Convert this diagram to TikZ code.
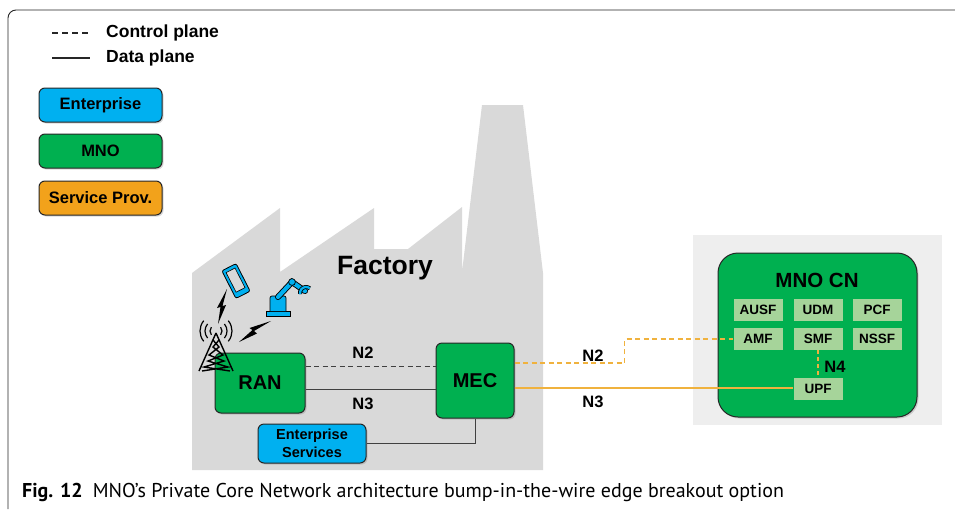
\documentclass[tikz,border=0pt]{standalone}
\usepackage{fontspec}
\setmainfont{Liberation Sans}
\newfontfamily\capfont{PT Sans}
\usetikzlibrary{positioning,shadows}

\definecolor{entblue}{HTML}{00B0F0}
\definecolor{mnogreen}{HTML}{00B050}
\definecolor{sporange}{HTML}{F2A21B}
\definecolor{nfgreen}{HTML}{A6D49A}
\definecolor{orline}{HTML}{F0B23E}
\definecolor{factgray}{HTML}{D9D9D9}
\definecolor{cnback}{HTML}{EEEEEE}

\tikzset{
    box/.style={draw=black!85, line width=1pt, rounded corners=6pt, inner sep=0pt,
        font=\bfseries, drop shadow={opacity=0.3, shadow xshift=1.5pt, shadow yshift=-1.5pt}},
    legbox/.style={box, minimum width=123pt, minimum height=34pt, font=\bfseries\fontsize{16.5}{18}\selectfont},
    nf/.style={fill=nfgreen, minimum width=49pt, minimum height=22pt, inner sep=0pt,
        font=\bfseries\fontsize{13.5}{15}\selectfont},
    lbl/.style={font=\bfseries\fontsize{16.5}{18}\selectfont, inner sep=0pt},
    ctrl/.style={dashed, dash pattern=on 5pt off 3.5pt, line width=1pt},
    data/.style={line width=1pt},
}

\begin{document}
\begin{tikzpicture}[x=1pt,y=-1pt]
    \useasboundingbox (0,0) rectangle (955,509);
    \draw[black!85, line width=0.9pt, rounded corners=8pt] (8,509) -- (8,10) -- (955,10);

    % legend
    \coordinate (cpa) at (52,33);
    \coordinate (cpb) at (90,33);
    \coordinate (dpa) at (52,58);
    \coordinate (dpb) at (90,58);
    \draw[ctrl, black!85, line width=1.4pt, dash pattern=on 6pt off 4pt] (cpa) -- (cpb);
    \draw[data, black!85, line width=1.4pt] (dpa) -- (dpb);
    \node[lbl, font=\bfseries\fontsize{17.5}{19}\selectfont, anchor=west] (cplbl) at (106,33) {Control plane};
    \node[lbl, font=\bfseries\fontsize{17.5}{19}\selectfont, anchor=west] (dplbl) at (106,58) {Data plane};
    \node[legbox, fill=entblue] (legent) at (100.5,105) {Enterprise};
    \node[legbox, fill=mnogreen] (legmno) at (100.5,151) {MNO};
    \node[legbox, fill=sporange] (legsp) at (100.5,198) {Service Prov.};

    % factory
    \fill[factgray] (192,470) -- (192,273) -- (280,208) -- (280,272) -- (374,208) -- (374,249)
        -- (408,249) -- (462,207) -- (462,272) -- (482,105) -- (523,105) -- (543,273) -- (543,470) -- cycle;
    \node[font=\bfseries\fontsize{26.5}{28}\selectfont] (factory) at (385,268) {Factory};

    % core network
    \fill[cnback] (693,235) rectangle (942,425);
    \node[box, fill=mnogreen, rounded corners=20pt, minimum width=199pt, minimum height=164pt] (CN) at (817.5,335) {};
    \node[font=\bfseries\fontsize{20.5}{22}\selectfont] (CNlbl) at (817,280) {MNO CN};
    \node[nf] (AUSF) at (758,310) {AUSF};
    \node[nf] (UDM) at (818,310) {UDM};
    \node[nf] (PCF) at (877,310) {PCF};
    \node[nf] (AMF) at (758,339) {AMF};
    \node[nf] (SMF) at (818,339) {SMF};
    \node[nf] (NSSF) at (877,339) {NSSF};
    \node[nf] (UPF) at (818,388.5) {UPF};

    % factory boxes
    \node[box, fill=mnogreen, minimum width=90pt, minimum height=60pt, font=\bfseries\fontsize{20}{22}\selectfont] (RAN) at (260,383) {RAN};
    \node[box, fill=mnogreen, minimum width=78pt, minimum height=75pt, font=\bfseries\fontsize{20}{22}\selectfont] (MEC) at (475,380.5) {MEC};
    \node[box, fill=entblue, minimum width=108pt, minimum height=39pt, align=center,
        font=\bfseries\fontsize{14.5}{18}\selectfont] (ES) at (312,443.5) {Enterprise\\Services};

    % links
    \coordinate (r2) at ([yshift=17pt]RAN.east);
    \coordinate (r3) at ([yshift=-6pt]RAN.east);
    \coordinate (m2) at ([yshift=17.5pt]MEC.east);
    \coordinate (m3) at ([yshift=-7.5pt]MEC.east);
    \draw[ctrl, black!75] (r2) -- (r2 -| MEC.west);
    \draw[data, black!75] (r3) -- (r3 -| MEC.west);
    \draw[data, black!75] (MEC.south) |- (ES.east);
    \draw[ctrl, orline, line width=1.5pt] (m2) -- ++(110,0) |- (AMF.west);
    \draw[data, orline, line width=1.5pt] (m3) -- (m3 -| UPF.west);
    \draw[ctrl, orline, line width=1.5pt, dash pattern=on 4pt off 3pt] (SMF.south) -- (UPF.north);
    \node[lbl] (n2a) at (363,353) {N2};
    \node[lbl] (n3a) at (363,404) {N3};
    \node[lbl] (n2b) at (593,356) {N2};
    \node[lbl] (n3b) at (593,402) {N3};
    \node[lbl] (n4) at (835,367) {N4};

    % devices
    \begin{scope}[shift={(236,281)}, rotate=27]
        \draw[fill=entblue, line width=0.8pt, rounded corners=2pt] (-8,-15.5) rectangle (8,15.5);
        \draw[fill=factgray, line width=0.6pt] (-5,-12) rectangle (5,10);
    \end{scope}
    \draw[fill=entblue, line width=0.7pt] (266,311) rectangle (290,316);
    \draw[fill=entblue, line width=0.7pt, rounded corners=2pt] (270,311) -- (270,296) -- (286,296) -- (286,311);
    \draw[line width=6pt, line cap=round] (278,297) -- (292,282) -- (305,291);
    \draw[entblue, line width=4.2pt, line cap=round] (278,297) -- (292,282) -- (305,291);
    \draw[fill=entblue, line width=0.7pt] (292,282) circle (3.4);
    \draw[line width=4pt] (306,293) ++(-50:6) arc (-50:-190:6);
    \draw[entblue, line width=2.3pt] (306,293) ++(-50:6) arc (-50:-190:6);
    \draw[line width=1.4pt] (216,333) -- (199,371) (216,333) -- (233,371)
        (213,340) -- (219,347) -- (209,355) -- (224,361) -- (204,367) -- (230,371)
        (219,340) -- (213,347) -- (223,355) -- (208,361) -- (228,367) -- (202,371);
    \foreach \r in {6,11,16} {
        \draw[line width=1.2pt] (216,331) ++(140:\r) arc (140:220:\r);
        \draw[line width=1.2pt] (216,331) ++(40:\r) arc (40:-40:\r);
    }
    \fill (227,289) -- (222.5,306) -- (226,305) -- (218,324) -- (220.5,307) -- (217,308) -- cycle;
    \fill (271,321) -- (254,331) -- (257,333.5) -- (239,342) -- (252.5,330) -- (249.5,328) -- cycle;

    % caption
    \node[anchor=west, inner sep=0pt, font=\capfont\fontsize{20}{22}\selectfont] (cap) at (22,492)
        {\textbf{Fig. 12}\hspace{0.5em}MNO’s Private Core Network architecture bump-in-the-wire edge breakout option};
\end{tikzpicture}
\end{document}
